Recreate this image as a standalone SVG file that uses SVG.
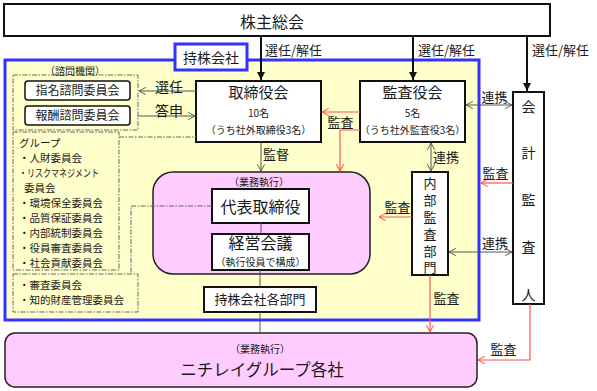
<svg xmlns="http://www.w3.org/2000/svg" width="597" height="391" viewBox="0 0 597 391">
<style>
text{font-family:"Noto Sans CJK JP","Noto Sans",sans-serif;fill:#1a1a1a;text-anchor:middle}
.l{text-anchor:start}
.v{writing-mode:vertical-rl;text-anchor:start}
.box{fill:#fff;stroke:#111;stroke-width:2}
.sbox{fill:#fff;stroke:#111;stroke-width:1.5}
.dash{fill:none;stroke:#666;stroke-width:1;stroke-dasharray:5 1.5 1.5 1.5}
.pink{fill:#ffccff;stroke:#222;stroke-width:1.5}
.blk{stroke:#111;stroke-width:2;fill:none}
.gr{stroke:#555;stroke-width:1;fill:none}
.rd{stroke:#ff5555;stroke-width:1.2;fill:none}
.f10{font-size:10px}
.f11{font-size:10.5px}
.f12{font-size:12px}
.f13{font-size:13px}
.f14{font-size:14px}
.f15{font-size:15px}
.f16{font-size:16px}
</style>
<defs>
<marker id="af" viewBox="0 0 10 10" refX="10" refY="5" markerWidth="8" markerHeight="8" markerUnits="userSpaceOnUse" orient="auto"><path d="M0,0 L10,5 L0,10 z" fill="#111"/></marker>
<marker id="ag" viewBox="0 0 10 10" refX="9.5" refY="5" markerWidth="8" markerHeight="8" markerUnits="userSpaceOnUse" orient="auto-start-reverse"><path d="M1,0.5 L9.5,5 L1,9.5" fill="none" stroke="#555" stroke-width="1.2"/></marker>
<marker id="ar" viewBox="0 0 10 10" refX="9.5" refY="5" markerWidth="8" markerHeight="8" markerUnits="userSpaceOnUse" orient="auto"><path d="M1,0.5 L9.5,5 L1,9.5" fill="none" stroke="#ff5555" stroke-width="1.3"/></marker>
</defs>
<rect width="597" height="391" fill="#fff"/>

<g id="frame-holding">
<rect x="5" y="60" width="474" height="260" fill="#ffffcc" stroke="#3333ff" stroke-width="3"/>
<rect x="175" y="44" width="72" height="26" fill="#fff" stroke="#3333ff" stroke-width="3"/>
<text x="211" y="63" class="f14">持株会社</text>
</g>

<g id="node-shareholders">
<rect class="box" x="4" y="4" width="546" height="32"/>
<text x="272" y="27.5" class="f16">株主総会</text>
</g>

<g id="node-advisory">
<rect class="dash" x="13" y="75" width="125" height="55"/>
<text x="75" y="74.5" class="f10">（諮問機関）</text>
</g>
<g id="node-nomination">
<rect class="sbox" x="25" y="81" width="105" height="19" rx="3"/>
<text x="77.5" y="95" class="f12">指名諮問委員会</text>
</g>
<g id="node-compensation">
<rect class="sbox" x="25" y="106" width="105" height="19" rx="3"/>
<text x="77.5" y="120" class="f12">報酬諮問委員会</text>
</g>

<g id="node-group-committees">
<rect class="dash" x="13" y="132" width="106" height="138"/>
<text class="l f11" x="19" y="147">グループ</text>
<text class="l f11" x="19" y="162">・人財委員会</text>
<text class="l f11" x="19" y="177" textLength="80" lengthAdjust="spacingAndGlyphs">・リスクマネジメント</text>
<text class="l f11" x="24" y="192">委員会</text>
<text class="l f11" x="19" y="207">・環境保全委員会</text>
<text class="l f11" x="19" y="222">・品質保証委員会</text>
<text class="l f11" x="19" y="237">・内部統制委員会</text>
<text class="l f11" x="19" y="252">・役員審査委員会</text>
<text class="l f11" x="19" y="267">・社会貢献委員会</text>
</g>
<g id="node-other-committees">
<rect class="dash" x="13" y="274" width="125" height="38"/>
<text class="l f11" x="19" y="289">・審査委員会</text>
<text class="l f11" x="19" y="304">・知的財産管理委員会</text>
</g>

<g id="node-board">
<rect class="box" x="196" y="81" width="125" height="61"/>
<text x="258.5" y="97.5" class="f15">取締役会</text>
<text x="258.5" y="116.5" class="f10">10名</text>
<text x="258.5" y="133.5" class="f10">（うち社外取締役3名）</text>
</g>

<g id="node-auditors">
<rect class="box" x="360" y="81" width="105" height="61"/>
<text x="412.5" y="97.5" class="f15">監査役会</text>
<text x="412.5" y="116.5" class="f10">5名</text>
<text x="412.5" y="133.5" class="f10">（うち社外監査役3名）</text>
</g>

<g id="node-accounting-auditor">
<rect class="box" x="513" y="92" width="31" height="212"/>
<text class="f14"><tspan x="528.5" y="112">会</tspan><tspan x="528.5" y="158">計</tspan><tspan x="528.5" y="205">監</tspan><tspan x="528.5" y="252">査</tspan><tspan x="528.5" y="300">人</tspan></text>
</g>

<g id="node-execution">
<rect class="pink" x="153" y="172" width="217" height="102" rx="20"/>
<text x="259" y="185.5" class="f10">（業務執行）</text>
</g>
<g id="node-representative">
<rect class="box" x="212" y="189" width="97" height="34"/>
<text x="260.5" y="212.5" class="f16">代表取締役</text>
</g>
<g id="node-management-meeting">
<rect class="box" x="212" y="234" width="97" height="36"/>
<text x="260.5" y="249" class="f16">経営会議</text>
<text x="260.5" y="265.5" class="f10">（執行役員で構成）</text>
</g>
<g id="node-departments">
<rect class="box" x="204" y="287" width="112" height="25"/>
<text x="260" y="304" class="f13">持株会社各部門</text>
</g>

<g id="node-internal-audit">
<rect class="box" x="412" y="172" width="36" height="103"/>
<text class="v f13" x="430" y="177" style="letter-spacing:3.8px">内部監査部門</text>
</g>

<g id="node-group-companies">
<rect class="pink" x="5" y="333" width="472" height="54" rx="10"/>
<text x="260" y="352.5" class="f10">（業務執行）</text>
<text x="262" y="376" style="font-size:16.5px">ニチレイグループ各社</text>
</g>

<g id="connectors">
<line class="blk" x1="261" y1="36" x2="261" y2="80" marker-end="url(#af)"/>
<line class="blk" x1="413" y1="36" x2="413" y2="80" marker-end="url(#af)"/>
<line class="blk" x1="527" y1="36" x2="527" y2="91" marker-end="url(#af)"/>
<text class="l f13" x="265" y="55">選任/解任</text>
<text class="l f13" x="418" y="55">選任/解任</text>
<text class="l f13" x="532" y="55">選任/解任</text>

<line class="gr" x1="196" y1="91" x2="139" y2="91" marker-end="url(#ag)"/>
<text x="169" y="92" class="f14">選任</text>
<line class="gr" x1="138" y1="116" x2="195" y2="116" marker-end="url(#ag)"/>
<text x="169" y="115.5" class="f14">答申</text>

<line class="rd" x1="360" y1="112" x2="322" y2="112" marker-end="url(#ar)"/>
<text x="340.5" y="127" class="f13">監査</text>
<path class="rd" d="M360,130 H340 V171" marker-end="url(#ar)"/>

<line class="gr" x1="261" y1="142" x2="261" y2="171" marker-end="url(#ag)"/>
<text x="276" y="158.5" class="f13">監督</text>

<line class="gr" x1="431" y1="143" x2="431" y2="171" marker-start="url(#ag)" marker-end="url(#ag)"/>
<text x="446" y="161.5" class="f13">連携</text>

<line class="gr" x1="466" y1="105" x2="512" y2="105" marker-start="url(#ag)" marker-end="url(#ag)"/>
<text x="494.5" y="101.5" class="f13">連携</text>

<line class="rd" x1="513" y1="183" x2="481" y2="183" marker-end="url(#ar)"/>
<text x="495.5" y="177.5" class="f13">監査</text>

<line class="gr" x1="449" y1="252" x2="512" y2="252" marker-start="url(#ag)" marker-end="url(#ag)"/>
<text x="495" y="247.5" class="f13">連携</text>

<line class="rd" x1="412" y1="217" x2="379" y2="217" marker-end="url(#ar)"/>
<text x="397.5" y="211.5" class="f13">監査</text>

<line class="rd" x1="430" y1="275" x2="430" y2="332" marker-end="url(#ar)"/>
<text x="446.5" y="302.5" class="f13">監査</text>

<path class="rd" d="M530,304 V360 H478" marker-end="url(#ar)"/>
<text x="503.5" y="353.5" class="f13">監査</text>

<line class="gr" x1="261" y1="223" x2="261" y2="234"/>
<line class="gr" x1="260" y1="270" x2="260" y2="287"/>
<line class="gr" x1="260" y1="312" x2="260" y2="333"/>

<line class="dash" x1="119" y1="137" x2="196" y2="137"/>
<path class="dash" d="M212,206 H131 V274"/>
</g>
</svg>
